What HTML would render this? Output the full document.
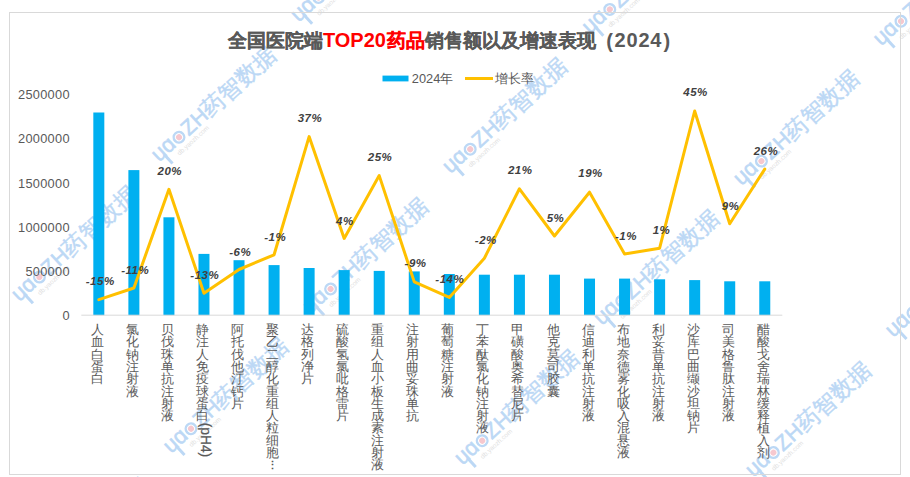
<!DOCTYPE html>
<html><head><meta charset="utf-8"><style>
html,body{margin:0;padding:0;background:#fff;}
body{width:910px;height:477px;overflow:hidden;position:relative;font-family:"Liberation Sans", sans-serif;}
.wm{position:absolute;left:0;top:0;width:0;height:0;transform-origin:0 0;}
.wm span{position:absolute;white-space:nowrap;line-height:1;}
.wm .ya{color:#bcd8f5;font-size:22px;font-weight:normal;-webkit-text-stroke:0.55px #bcd8f5;top:-13.1px;right:7.3px;}
.wm .zh{color:#bcd8f5;font-size:21px;font-weight:normal;-webkit-text-stroke:0.55px #bcd8f5;top:-12.3px;left:7.6px;letter-spacing:0.6px;}
.wm .cjk{color:#bcd8f5;font-size:22.5px;font-weight:normal;-webkit-text-stroke:0.45px #bcd8f5;top:-10.8px;left:36px;}
.wm .ring{left:-4.4px;top:-4.4px;width:8.8px;height:8.8px;box-shadow:0 0 0 2.5px #bcd8f5;border-radius:50%;}
.wm .dot{left:-3.2px;top:-3.2px;width:6.4px;height:6.4px;border-radius:50%;background:#f6c8cf;}
.wm .ds{left:-23.6px;top:3px;width:2.5px;height:11.5px;background:#bcd8f5;}
.wm .sm{color:#dedede;font-size:6.5px;top:9px;left:-12px;}
.t{position:absolute;white-space:nowrap;line-height:1;}
.tt{position:absolute;white-space:nowrap;line-height:1;top:30.9px;font-size:19.2px;font-weight:bold;color:#595959;}
.yl{position:absolute;right:840.2px;font-size:12.8px;letter-spacing:0.28px;color:#595959;line-height:1;}
.xl{position:absolute;top:324.1px;width:14px;font-size:13.3px;line-height:12.3px;color:#595959;text-align:center;}
.xl b{display:block;font-weight:normal;height:12.3px;}
.xl i{display:block;font-style:normal;white-space:nowrap;transform:rotate(90deg);transform-origin:50% 50%;}
.dl{position:absolute;font-size:11.5px;letter-spacing:0.5px;font-weight:bold;font-style:italic;color:#404040;line-height:1;white-space:nowrap;}
</style></head><body>
<div class="wm" style="transform:translate(318.6px,-2.5px) rotate(-42.5deg)"><span class="ya">uɑ</span><span class="ds"></span><span class="ring"></span><span class="dot"></span><span class="zh">ZH</span><span class="cjk">药智数据</span><span class="sm">db.yaozh.com</span></div>
<div class="wm" style="transform:translate(609.8px,9.4px) rotate(-42.5deg)"><span class="ya">uɑ</span><span class="ds"></span><span class="ring"></span><span class="dot"></span><span class="zh">ZH</span><span class="cjk">药智数据</span><span class="sm">db.yaozh.com</span></div>
<div class="wm" style="transform:translate(901.0px,21.3px) rotate(-42.5deg)"><span class="ya">uɑ</span><span class="ds"></span><span class="ring"></span><span class="dot"></span><span class="zh">ZH</span><span class="cjk">药智数据</span><span class="sm">db.yaozh.com</span></div>
<div class="wm" style="transform:translate(-112.2px,125.4px) rotate(-42.5deg)"><span class="ya">uɑ</span><span class="ds"></span><span class="ring"></span><span class="dot"></span><span class="zh">ZH</span><span class="cjk">药智数据</span><span class="sm">db.yaozh.com</span></div>
<div class="wm" style="transform:translate(179.0px,137.3px) rotate(-42.5deg)"><span class="ya">uɑ</span><span class="ds"></span><span class="ring"></span><span class="dot"></span><span class="zh">ZH</span><span class="cjk">药智数据</span><span class="sm">db.yaozh.com</span></div>
<div class="wm" style="transform:translate(470.2px,149.2px) rotate(-42.5deg)"><span class="ya">uɑ</span><span class="ds"></span><span class="ring"></span><span class="dot"></span><span class="zh">ZH</span><span class="cjk">药智数据</span><span class="sm">db.yaozh.com</span></div>
<div class="wm" style="transform:translate(761.4px,161.1px) rotate(-42.5deg)"><span class="ya">uɑ</span><span class="ds"></span><span class="ring"></span><span class="dot"></span><span class="zh">ZH</span><span class="cjk">药智数据</span><span class="sm">db.yaozh.com</span></div>
<div class="wm" style="transform:translate(39.4px,277.1px) rotate(-42.5deg)"><span class="ya">uɑ</span><span class="ds"></span><span class="ring"></span><span class="dot"></span><span class="zh">ZH</span><span class="cjk">药智数据</span><span class="sm">db.yaozh.com</span></div>
<div class="wm" style="transform:translate(330.6px,289.0px) rotate(-42.5deg)"><span class="ya">uɑ</span><span class="ds"></span><span class="ring"></span><span class="dot"></span><span class="zh">ZH</span><span class="cjk">药智数据</span><span class="sm">db.yaozh.com</span></div>
<div class="wm" style="transform:translate(621.8px,300.9px) rotate(-42.5deg)"><span class="ya">uɑ</span><span class="ds"></span><span class="ring"></span><span class="dot"></span><span class="zh">ZH</span><span class="cjk">药智数据</span><span class="sm">db.yaozh.com</span></div>
<div class="wm" style="transform:translate(913.0px,312.8px) rotate(-42.5deg)"><span class="ya">uɑ</span><span class="ds"></span><span class="ring"></span><span class="dot"></span><span class="zh">ZH</span><span class="cjk">药智数据</span><span class="sm">db.yaozh.com</span></div>
<div class="wm" style="transform:translate(-100.2px,416.9px) rotate(-42.5deg)"><span class="ya">uɑ</span><span class="ds"></span><span class="ring"></span><span class="dot"></span><span class="zh">ZH</span><span class="cjk">药智数据</span><span class="sm">db.yaozh.com</span></div>
<div class="wm" style="transform:translate(191.0px,428.8px) rotate(-42.5deg)"><span class="ya">uɑ</span><span class="ds"></span><span class="ring"></span><span class="dot"></span><span class="zh">ZH</span><span class="cjk">药智数据</span><span class="sm">db.yaozh.com</span></div>
<div class="wm" style="transform:translate(482.2px,440.7px) rotate(-42.5deg)"><span class="ya">uɑ</span><span class="ds"></span><span class="ring"></span><span class="dot"></span><span class="zh">ZH</span><span class="cjk">药智数据</span><span class="sm">db.yaozh.com</span></div>
<div class="wm" style="transform:translate(773.4px,452.6px) rotate(-42.5deg)"><span class="ya">uɑ</span><span class="ds"></span><span class="ring"></span><span class="dot"></span><span class="zh">ZH</span><span class="cjk">药智数据</span><span class="sm">db.yaozh.com</span></div>
<div class="wm" style="transform:translate(51.4px,568.6px) rotate(-42.5deg)"><span class="ya">uɑ</span><span class="ds"></span><span class="ring"></span><span class="dot"></span><span class="zh">ZH</span><span class="cjk">药智数据</span><span class="sm">db.yaozh.com</span></div>
<div class="wm" style="transform:translate(342.6px,580.5px) rotate(-42.5deg)"><span class="ya">uɑ</span><span class="ds"></span><span class="ring"></span><span class="dot"></span><span class="zh">ZH</span><span class="cjk">药智数据</span><span class="sm">db.yaozh.com</span></div>
<div class="wm" style="transform:translate(633.8px,592.4px) rotate(-42.5deg)"><span class="ya">uɑ</span><span class="ds"></span><span class="ring"></span><span class="dot"></span><span class="zh">ZH</span><span class="cjk">药智数据</span><span class="sm">db.yaozh.com</span></div>
<svg width="910" height="477" style="position:absolute;left:0;top:0">
<rect x="9.5" y="12.5" width="891" height="462" fill="none" stroke="#d9d9d9" stroke-width="1"/>
<rect x="93.32" y="112.50" width="11" height="202.70" fill="#00b0f0"/>
<rect x="128.38" y="170.10" width="11" height="145.10" fill="#00b0f0"/>
<rect x="163.43" y="217.30" width="11" height="97.90" fill="#00b0f0"/>
<rect x="198.47" y="253.90" width="11" height="61.30" fill="#00b0f0"/>
<rect x="233.52" y="260.20" width="11" height="55.00" fill="#00b0f0"/>
<rect x="268.57" y="265.10" width="11" height="50.10" fill="#00b0f0"/>
<rect x="303.62" y="268.00" width="11" height="47.20" fill="#00b0f0"/>
<rect x="338.68" y="270.10" width="11" height="45.10" fill="#00b0f0"/>
<rect x="373.72" y="270.90" width="11" height="44.30" fill="#00b0f0"/>
<rect x="408.77" y="271.40" width="11" height="43.80" fill="#00b0f0"/>
<rect x="443.82" y="274.00" width="11" height="41.20" fill="#00b0f0"/>
<rect x="478.88" y="274.70" width="11" height="40.50" fill="#00b0f0"/>
<rect x="513.92" y="274.70" width="11" height="40.50" fill="#00b0f0"/>
<rect x="548.97" y="274.70" width="11" height="40.50" fill="#00b0f0"/>
<rect x="584.02" y="278.60" width="11" height="36.60" fill="#00b0f0"/>
<rect x="619.07" y="278.60" width="11" height="36.60" fill="#00b0f0"/>
<rect x="654.12" y="279.30" width="11" height="35.90" fill="#00b0f0"/>
<rect x="689.17" y="280.10" width="11" height="35.10" fill="#00b0f0"/>
<rect x="724.22" y="281.30" width="11" height="33.90" fill="#00b0f0"/>
<rect x="759.27" y="281.30" width="11" height="33.90" fill="#00b0f0"/>
<line x1="81.3" y1="315.2" x2="782.3" y2="315.2" stroke="#d9d9d9" stroke-width="1"/>
<polyline points="98.82,299.70 133.88,288.00 168.93,189.30 203.97,293.30 239.02,269.50 274.07,254.80 309.12,136.60 344.18,238.40 379.22,175.60 414.27,281.90 449.32,297.40 484.38,258.20 519.42,188.80 554.47,236.00 589.52,192.20 624.57,253.90 659.62,248.20 694.67,111.00 729.72,223.80 764.77,169.10" fill="none" stroke="#ffc000" stroke-width="3" stroke-linejoin="round" stroke-linecap="round"/>
<rect x="382.5" y="75.6" width="26" height="5.8" fill="#00b0f0"/>
<line x1="465" y1="78.5" x2="493" y2="78.5" stroke="#ffc000" stroke-width="3"/>
</svg>
<div class="tt" style="left:228px;-webkit-text-stroke-width:0.2px">全国医院端</div>
<div class="tt" style="left:322.9px;top:30.2px;font-size:20px;color:#ff0000;letter-spacing:0px">TOP20</div>
<div class="tt" style="left:386.6px;color:#ff0000;-webkit-text-stroke-width:0.2px">药品</div>
<div class="tt" style="left:425.2px;letter-spacing:-0.05px;-webkit-text-stroke-width:0.2px">销售额以及增速表现</div>
<div class="tt" style="left:606.3px;top:30.5px;font-size:20px">(</div>
<div class="tt" style="left:614.6px;top:30.2px;font-size:20px;letter-spacing:0.8px">2024</div>
<div class="tt" style="left:663.6px;top:30.5px;font-size:20px">)</div>
<div class="t" style="left:411.8px;top:72.6px;font-size:12.8px;color:#595959;">2024年</div>
<div class="t" style="left:494.6px;top:72.6px;font-size:12.8px;color:#595959;">增长率</div>
<div class="yl" style="top:89.0px">2500000</div>
<div class="yl" style="top:133.2px">2000000</div>
<div class="yl" style="top:177.5px">1500000</div>
<div class="yl" style="top:221.8px">1000000</div>
<div class="yl" style="top:266.0px">500000</div>
<div class="yl" style="top:310.2px">0</div>
<div class="dl" style="left:100.2px;top:275.9px;transform:translateX(-50%)">-15%</div>
<div class="dl" style="left:135.2px;top:265.0px;transform:translateX(-50%)">-11%</div>
<div class="dl" style="left:169.8px;top:165.5px;transform:translateX(-50%)">20%</div>
<div class="dl" style="left:204.8px;top:270.1px;transform:translateX(-50%)">-13%</div>
<div class="dl" style="left:240.2px;top:246.9px;transform:translateX(-50%)">-6%</div>
<div class="dl" style="left:275.2px;top:231.6px;transform:translateX(-50%)">-1%</div>
<div class="dl" style="left:309.9px;top:113.0px;transform:translateX(-50%)">37%</div>
<div class="dl" style="left:344.9px;top:215.9px;transform:translateX(-50%)">4%</div>
<div class="dl" style="left:380.1px;top:151.8px;transform:translateX(-50%)">25%</div>
<div class="dl" style="left:415.6px;top:258.3px;transform:translateX(-50%)">-9%</div>
<div class="dl" style="left:449.8px;top:274.2px;transform:translateX(-50%)">-14%</div>
<div class="dl" style="left:485.8px;top:235.0px;transform:translateX(-50%)">-2%</div>
<div class="dl" style="left:520.2px;top:165.0px;transform:translateX(-50%)">21%</div>
<div class="dl" style="left:555.5px;top:213.2px;transform:translateX(-50%)">5%</div>
<div class="dl" style="left:590.5px;top:167.8px;transform:translateX(-50%)">19%</div>
<div class="dl" style="left:625.9px;top:230.7px;transform:translateX(-50%)">-1%</div>
<div class="dl" style="left:661.5px;top:224.9px;transform:translateX(-50%)">1%</div>
<div class="dl" style="left:695.6px;top:87.1px;transform:translateX(-50%)">45%</div>
<div class="dl" style="left:730.5px;top:201.1px;transform:translateX(-50%)">9%</div>
<div class="dl" style="left:765.9px;top:145.6px;transform:translateX(-50%)">26%</div>
<div class="xl" style="left:90.3px"><b>人</b><b>血</b><b>白</b><b>蛋</b><b>白</b></div>
<div class="xl" style="left:125.4px"><b>氯</b><b>化</b><b>钠</b><b>注</b><b>射</b><b>液</b></div>
<div class="xl" style="left:160.4px"><b>贝</b><b>伐</b><b>珠</b><b>单</b><b>抗</b><b>注</b><b>射</b><b>液</b></div>
<div class="xl" style="left:195.5px"><b>静</b><b>注</b><b>人</b><b>免</b><b>疫</b><b>球</b><b>蛋</b><b>白</b><b style="height:31px;position:relative"><i style="position:absolute;left:-7.4px;top:10.8px;width:33px;font-size:13.8px;-webkit-text-stroke-width:0.25px">(pH4)</i></b></div>
<div class="xl" style="left:230.5px"><b>阿</b><b>托</b><b>伐</b><b>他</b><b>汀</b><b>钙</b><b>片</b></div>
<div class="xl" style="left:265.6px"><b>聚</b><b>乙</b><b>二</b><b>醇</b><b>化</b><b>重</b><b>组</b><b>人</b><b>粒</b><b>细</b><b>胞</b><b style="font-size:11px;line-height:10px;margin-top:1px;font-weight:bold">⋮</b></div>
<div class="xl" style="left:300.6px"><b>达</b><b>格</b><b>列</b><b>净</b><b>片</b></div>
<div class="xl" style="left:335.7px"><b>硫</b><b>酸</b><b>氢</b><b>氯</b><b>吡</b><b>格</b><b>雷</b><b>片</b></div>
<div class="xl" style="left:370.7px"><b>重</b><b>组</b><b>人</b><b>血</b><b>小</b><b>板</b><b>生</b><b>成</b><b>素</b><b>注</b><b>射</b><b>液</b></div>
<div class="xl" style="left:405.8px"><b>注</b><b>射</b><b>用</b><b>曲</b><b>妥</b><b>珠</b><b>单</b><b>抗</b></div>
<div class="xl" style="left:440.8px"><b>葡</b><b>萄</b><b>糖</b><b>注</b><b>射</b><b>液</b></div>
<div class="xl" style="left:475.9px"><b>丁</b><b>苯</b><b>酞</b><b>氯</b><b>化</b><b>钠</b><b>注</b><b>射</b><b>液</b></div>
<div class="xl" style="left:510.9px"><b>甲</b><b>磺</b><b>酸</b><b>奥</b><b>希</b><b>替</b><b>尼</b><b>片</b></div>
<div class="xl" style="left:546.0px"><b>他</b><b>克</b><b>莫</b><b>司</b><b>胶</b><b>囊</b></div>
<div class="xl" style="left:581.0px"><b>信</b><b>迪</b><b>利</b><b>单</b><b>抗</b><b>注</b><b>射</b><b>液</b></div>
<div class="xl" style="left:616.1px"><b>布</b><b>地</b><b>奈</b><b>德</b><b>雾</b><b>化</b><b>吸</b><b>入</b><b>混</b><b>悬</b><b>液</b></div>
<div class="xl" style="left:651.1px"><b>利</b><b>妥</b><b>昔</b><b>单</b><b>抗</b><b>注</b><b>射</b><b>液</b></div>
<div class="xl" style="left:686.2px"><b>沙</b><b>库</b><b>巴</b><b>曲</b><b>缬</b><b>沙</b><b>坦</b><b>钠</b><b>片</b></div>
<div class="xl" style="left:721.2px"><b>司</b><b>美</b><b>格</b><b>鲁</b><b>肽</b><b>注</b><b>射</b><b>液</b></div>
<div class="xl" style="left:756.3px"><b>醋</b><b>酸</b><b>戈</b><b>舍</b><b>瑞</b><b>林</b><b>缓</b><b>释</b><b>植</b><b>入</b><b>剂</b></div>
</body></html>
